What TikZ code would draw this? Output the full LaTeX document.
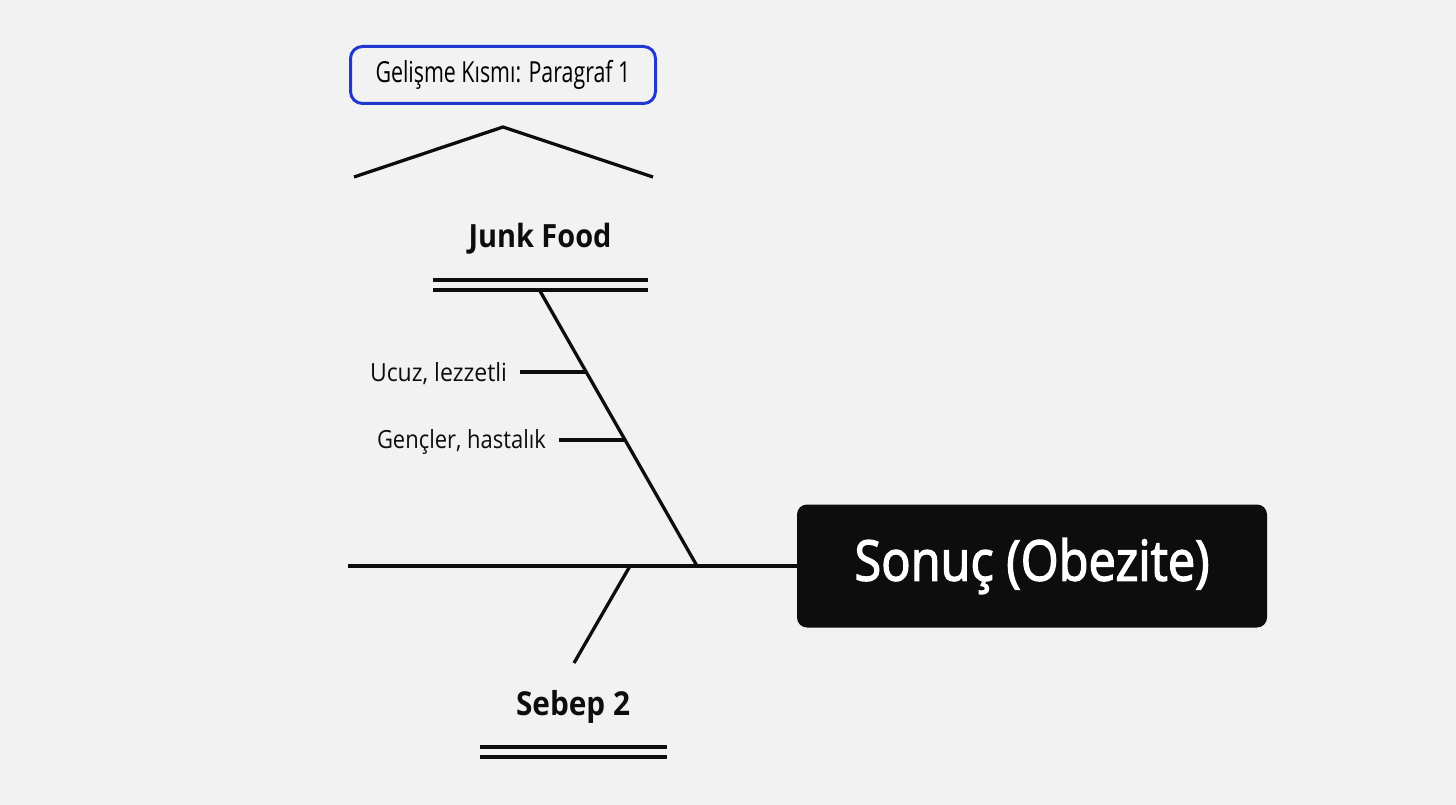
\documentclass[tikz,border=0pt]{standalone}
\usepackage{fontspec}
\setmainfont{Open Sans}
\newfontfamily\medfont{Open Sans}[FakeBold=2.5]
\definecolor{bg}{HTML}{F2F2F2}
\definecolor{ink}{HTML}{0D0D0D}
\definecolor{blu}{HTML}{2038D0}
\newcommand\fitw[2]{\setbox0\hbox{#2}\pgfmathsetmacro\fitsx{#1/\the\wd0}\scalebox{\fitsx}[1]{\box0}}
\begin{document}
\begin{tikzpicture}[x=1pt,y=-1pt,
  bone/.style={line width=3.3pt, draw=ink},
  lbl/.style={inner sep=0pt, text=ink, anchor=center},
  titlebox/.style={draw=blu, line width=3pt, rounded corners=12pt, fill=bg, minimum width=305pt, minimum height=57pt, inner sep=0pt},
  resultbox/.style={fill=ink, rounded corners=10pt, minimum width=470pt, minimum height=123pt, inner sep=0pt, text=white}]
\fill[bg] (0,0) rectangle (1456,805);
\useasboundingbox (0,0) rectangle (1456,805);
% title
\node[titlebox] (title) at (503,75) {\fontsize{29}{32}\selectfont\fitw{255}{Gelişme Kısmı: Paragraf 1}};
% chevron
\coordinate (chl) at (354,177);
\coordinate (chtop) at (503,127);
\coordinate (chr) at (653,177);
\draw[bone, line join=miter] (chl) -- (chtop) -- (chr);
% result
\node[resultbox] (res) at (1032,566) {\fontsize{56}{60}\selectfont\medfont\fitw{355}{Sonuç (Obezite)}};
% spine
\coordinate (tail) at (348,566);
\coordinate (j0) at (697,566);
\coordinate (s0) at (630,566);
\draw[bone] (tail) -- (res.west);
% junk food
\node[lbl] (junk) at (540,239) {\fontsize{32}{36}\selectfont\bfseries\fitw{143}{Junk Food}};
\coordinate (jl1) at (433,280); \coordinate (jr1) at (648,280);
\coordinate (jl2) at (433,290); \coordinate (jr2) at (648,290);
\draw[bone] (jl1) -- (jr1);
\draw[bone] (jl2) -- (jr2);
\coordinate (jtop) at (540,291);
\draw[bone] (jtop) -- (j0);
% sub causes
\node[lbl] (c1) at (438.5,374) {\fontsize{25}{28}\selectfont\fitw{137}{Ucuz, lezzetli}};
\node[lbl] (c2) at (461.5,442) {\fontsize{25}{28}\selectfont\fitw{169}{Gençler, hastalık}};
\coordinate (c1s) at (520,372); \coordinate (c1e) at (586,372);
\coordinate (c2s) at (559,440); \coordinate (c2e) at (625,440);
\draw[bone] (c1s) -- (c1e);
\draw[bone] (c2s) -- (c2e);
% sebep 2
\coordinate (s2end) at (574,663);
\draw[bone] (s0) -- (s2end);
\node[lbl] (seb) at (573,707) {\fontsize{33}{36}\selectfont\bfseries\fitw{114}{Sebep 2}};
\coordinate (sl1) at (480,747); \coordinate (sr1) at (667,747);
\coordinate (sl2) at (480,757); \coordinate (sr2) at (667,757);
\draw[bone] (sl1) -- (sr1);
\draw[bone] (sl2) -- (sr2);
\end{tikzpicture}
\end{document}
